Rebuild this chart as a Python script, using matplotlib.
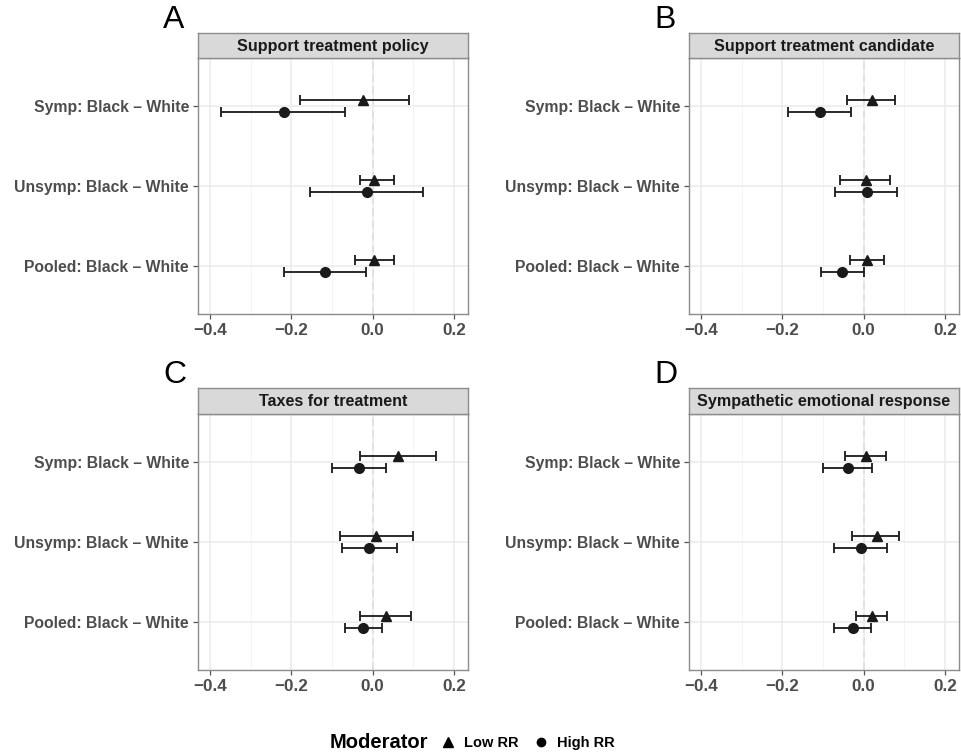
import matplotlib
matplotlib.use("Agg")
import matplotlib.pyplot as plt
from matplotlib.lines import Line2D

plt.rcParams["font.family"] = ["Liberation Sans", "DejaVu Sans"]
plt.rcParams["font.weight"] = "bold"

rows = ["Symp: Black \u2013 White", "Unsymp: Black \u2013 White", "Pooled: Black \u2013 White"]
titles = ["Support treatment policy", "Support treatment candidate",
          "Taxes for treatment", "Sympathetic emotional response"]
letters = ["A", "B", "C", "D"]

# estimates per panel, rows in order Symp, Unsymp, Pooled
low_est = [[-0.023, 0.003, 0.003], [0.020, 0.005, 0.009],
           [0.063, 0.009, 0.032], [0.006, 0.032, 0.020]]
low_lo = [[-0.178, -0.032, -0.043], [-0.040, -0.057, -0.034],
          [-0.031, -0.081, -0.032], [-0.046, -0.028, -0.019]]
low_hi = [[0.089, 0.052, 0.052], [0.078, 0.066, 0.051],
          [0.157, 0.100, 0.094], [0.055, 0.088, 0.057]]
high_est = [[-0.219, -0.014, -0.118], [-0.108, 0.008, -0.053],
            [-0.033, -0.008, -0.023], [-0.038, -0.007, -0.026]]
high_lo = [[-0.373, -0.153, -0.217], [-0.186, -0.070, -0.105],
           [-0.100, -0.076, -0.068], [-0.100, -0.072, -0.072]]
high_hi = [[-0.068, 0.125, -0.016], [-0.031, 0.083, 0.002],
           [0.034, 0.060, 0.024], [0.021, 0.058, 0.019]]

W, H = 962, 755
fig = plt.figure(figsize=(W / 100, H / 100), dpi=100)


def px_axes(x0, y0, x1, y1):
    return fig.add_axes([x0 / W, 1 - y1 / H, (x1 - x0) / W, (y1 - y0) / H])


# (left, strip top, plot top, plot bottom) in pixels
boxes = [(198, 33, 58, 314), (689, 33, 58, 314),
         (198, 388, 414, 670), (689, 388, 414, 670)]

ypos = [3, 2, 1]
dodge = 0.075
txt_col = "#4D4D4D"
bar_col = "#1a1a1a"

for i, (x0, st, pt, pb) in enumerate(boxes):
    ax = px_axes(x0, pt, x0 + 270, pb)
    ax.set_xlim(-0.43, 0.235)
    ax.set_ylim(0.4, 3.6)
    ax.set_xticks([-0.4, -0.2, 0.0, 0.2])
    ax.set_xticklabels(["\u22120.4", "\u22120.2", "0.0", "0.2"])
    ax.set_xticks([-0.3, -0.1, 0.1], minor=True)
    ax.set_yticks(ypos)
    ax.set_yticklabels(rows)
    ax.grid(True, which="major", color="#EBEBEB", lw=1.1, zorder=0)
    ax.grid(True, which="minor", axis="x", color="#F2F2F2", lw=0.6, zorder=0)
    ax.axvline(0, color="#B3B3B3", ls=(0, (5, 3)), lw=1.1, zorder=1)
    for s in ax.spines.values():
        s.set_color("#8C8C8C")
        s.set_linewidth(1.0)
    ax.tick_params(axis="both", which="major", colors="#555555", length=3.5, width=0.9,
                   labelcolor=txt_col, pad=3)
    ax.tick_params(axis="y", labelsize=11.3)
    ax.tick_params(axis="x", labelsize=12.3)
    ax.tick_params(axis="x", which="minor", length=0)

    yl = [y + dodge for y in ypos]
    yh = [y - dodge for y in ypos]
    xerr_l = [[e - l for e, l in zip(low_est[i], low_lo[i])],
              [h - e for e, h in zip(low_est[i], low_hi[i])]]
    xerr_h = [[e - l for e, l in zip(high_est[i], high_lo[i])],
              [h - e for e, h in zip(high_est[i], high_hi[i])]]
    ax.errorbar(low_est[i], yl, xerr=xerr_l, fmt="^", color=bar_col, ms=7.5,
                elinewidth=1.3, capsize=3.8, capthick=1.3, zorder=3)
    ax.errorbar(high_est[i], yh, xerr=xerr_h, fmt="o", color=bar_col, ms=7,
                elinewidth=1.3, capsize=3.8, capthick=1.3, zorder=3)

    sax = px_axes(x0, st, x0 + 270, pt)
    sax.set_facecolor("#D9D9D9")
    sax.set_xticks([])
    sax.set_yticks([])
    for s in sax.spines.values():
        s.set_color("#8C8C8C")
        s.set_linewidth(1.0)
    sax.text(0.5, 0.48, titles[i], ha="center", va="center", fontsize=11.6,
             color="#1A1A1A", transform=sax.transAxes)

    fig.text((x0 - 35) / W, 1 - (st - 13) / H, letters[i], fontsize=23,
             fontweight="normal", ha="left", va="center", color="black")

fig.text(330 / W, 1 - 743 / H, "Moderator", fontsize=14.5, ha="left", va="center",
         color="black")
handles = [Line2D([], [], marker="^", ls="none", color="black", ms=6.5),
           Line2D([], [], marker="o", ls="none", color="black", ms=6)]
fig.legend(handles, ["Low RR", "High RR"], ncol=2, frameon=False,
           loc="center left", bbox_to_anchor=(428 / W, 1 - 743 / H),
           fontsize=10.5, handletextpad=0.6, columnspacing=1.0, handlelength=1.0)

fig.savefig("out.png", dpi=100)
